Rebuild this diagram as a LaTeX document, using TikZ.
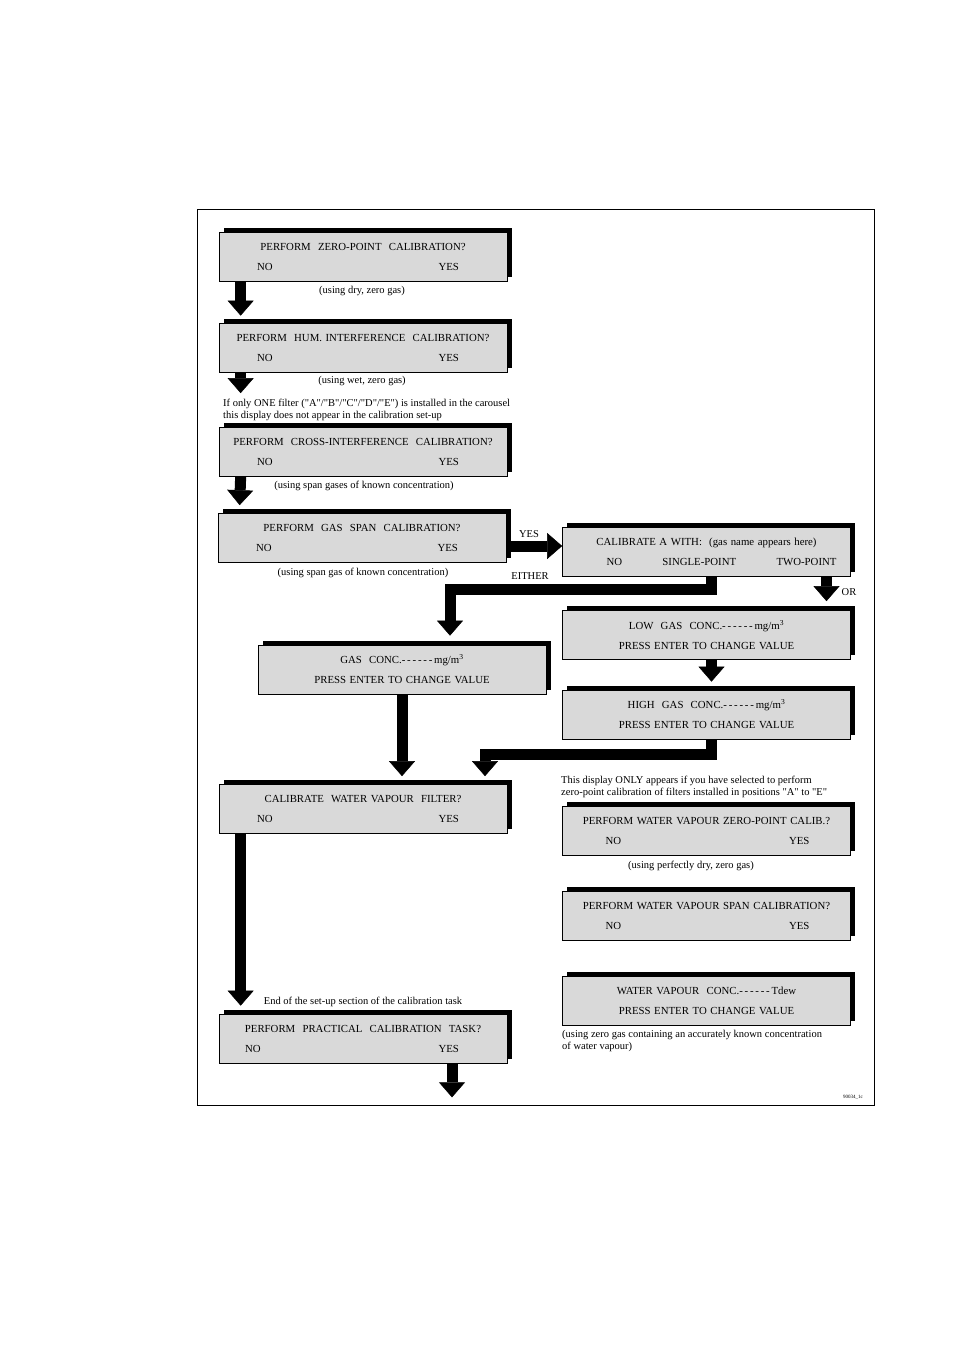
\documentclass[tikz,border=0pt]{standalone}
\usepackage{fontspec}
\setmainfont{Liberation Serif}
\usepackage{tikz}
\usetikzlibrary{positioning, shadows}
\usetikzlibrary{arrows.meta}

\newcommand{\trattini}{-\,-\,-\,-\,-\,-\,}
\newcommand{\virg}[1]{\textquotedbl#1\textquotedbl}

\tikzset{
  display/.style={draw, line width=0.7pt, fill=black!15, minimum width=288pt, minimum height=49pt,
    inner sep=0pt, text width=206pt, align=center, font=\fontsize{10.8}{20}\selectfont,
    drop shadow={shadow xshift=4.5pt, shadow yshift=4.5pt, fill=black, opacity=1}},
  nota/.style={inner sep=0pt, font=\fontsize{10.5}{12}\selectfont},
  freccia/.style={line width=11pt, line join=miter,
    -{Triangle[length=15pt, width=26pt, line width=0.5pt]}}
}

\begin{document}
\begin{tikzpicture}[x=1pt, y=-1pt]
        \useasboundingbox (0,0) rectangle (955,1350);
        % Cornice esterna
        \draw[line width=0.9pt] (197,209) rectangle (874,1105);

        % Display con domanda e risposte NO / YES
        \foreach \nome/\x/\y/\sx/\dx/\testo in {zp/363/257/-3/7/{PERFORM~ ZERO-POINT~ CALIBRATION?},
                                        hum/363/347.5/-3/7/{PERFORM~ HUM. INTERFERENCE~ CALIBRATION?},
                                        cross/363/452/-3/7/{PERFORM~ CROSS-INTERFERENCE~ CALIBRATION?},
                                        span/362/538/-3/7/{PERFORM~ GAS~ SPAN~ CALIBRATION?},
                                        wvfilter/363/809/-3/7/{CALIBRATE~ WATER VAPOUR~ FILTER?},
                                        wvzero/706.5/831/2/0/{PERFORM WATER VAPOUR ZERO-POINT CALIB.?},
                                        wvspan/706.5/916/2/0/{PERFORM WATER VAPOUR SPAN CALIBRATION?},
                                        practical/363/1038.5/-15/7/{PERFORM~ PRACTICAL~ CALIBRATION~ TASK?}} {
            \node[display] (\nome) at (\x,\y)
                {\makebox[0pt]{\testo}\\\hspace*{\sx pt}NO\hfill YES\hspace*{\dx pt}\null};
        }

        % Display con valori da impostare
        \node[display, text width=232pt] (calib) at (706.5,551.5)
            {\makebox[0pt]{CALIBRATE A WITH:~ (gas name appears here)}\\
             \hspace*{16pt}NO\hfill SINGLE-POINT\hfill TWO-POINT\hspace*{-14pt}\null};
        \node[display, text width=260pt] (gasconc) at (402,669.5)
            {GAS~ CONC.\trattini mg/m\textsuperscript{3}\\PRESS ENTER TO CHANGE VALUE};
        \node[display, text width=260pt] (low) at (706.5,635)
            {LOW~ GAS~ CONC.\trattini mg/m\textsuperscript{3}\\PRESS ENTER TO CHANGE VALUE};
        \node[display, text width=260pt] (high) at (706.5,714.5)
            {HIGH~ GAS~ CONC.\trattini mg/m\textsuperscript{3}\\PRESS ENTER TO CHANGE VALUE};
        \node[display, text width=260pt] (wvconc) at (706.5,1000.5)
            {WATER VAPOUR~ CONC.\trattini Tdew\\PRESS ENTER TO CHANGE VALUE};

        % Note
        \node[nota] (usodry) at (362,291) {(using dry, zero gas)};
        \node[nota] (usowet) at (362,381) {(using wet, zero gas)};
        \node[nota, anchor=west, align=left] (unfiltro) at (223,410)
            {If only ONE filter (\virg{A}/\virg{B}/\virg{C}/\virg{D}/\virg{E}) is installed in the carousel\\this display does not appear in the calibration set-up};
        \node[nota] (usospan) at (364,486) {(using span gases of known concentration)};
        \node[nota] (usospangas) at (363,573) {(using span gas of known concentration)};
        \node[nota] (lblyes) at (529,534) {YES};
        \node[nota] (lbleither) at (530,576) {EITHER};
        \node[nota] (lblor) at (849,592) {OR};
        \node[nota, anchor=west, align=left] (solo) at (561,787)
            {This display ONLY appears if you have selected to perform\\zero-point calibration of filters installed in positions \virg{A} to \virg{E}};
        \node[nota] (usoperf) at (691,866) {(using perfectly dry, zero gas)};
        \node[nota] (fine) at (363,1002) {End of the set-up section of the calibration task};
        \node[nota, anchor=west, align=left] (zerogas) at (562,1041)
            {(using zero gas containing an accurately known concentration\\of water vapour)};
        \node[nota, font=\fontsize{5}{6}\selectfont] (sigla) at (853,1097) {90034\_1c};

        % Frecce
        \draw[freccia] ([xshift=22pt]zp.south west) -- ([xshift=22pt,yshift=7pt]hum.north west);
        \draw[freccia] ([xshift=22pt]hum.south west) -- ([xshift=22pt,yshift=34pt]cross.north west);
        \draw[freccia] ([xshift=22pt]cross.south west) -- ([xshift=22pt,yshift=8pt]span.north west);
        \draw[freccia] ([yshift=-8pt]span.east) -- ([yshift=-8pt]span.east -| calib.west);
        \draw[freccia] ([xshift=5pt]calib.south) -- ++(0,13) -| ([xshift=48pt,yshift=9pt]gasconc.north);
        \draw[freccia] ([xshift=120pt]calib.south) -- ([xshift=120pt,yshift=9pt]low.north);
        \draw[freccia] ([xshift=5pt]low.south) -- ([xshift=5pt,yshift=8pt]high.north);
        \draw[freccia] ([xshift=5pt]high.south) -- ++(0,15) -| ([xshift=122pt,yshift=8pt]wvfilter.north);
        \draw[freccia] (gasconc.south) -- ([yshift=8pt]gasconc.south |- wvfilter.north);
        \draw[freccia] ([xshift=22pt]wvfilter.south west) -- ([xshift=22pt,yshift=8pt]practical.north west);
        \coordinate (uscita) at ([xshift=89pt,yshift=-34pt]practical.south);
        \draw[freccia] ([xshift=89pt]practical.south) -- (uscita);

\end{tikzpicture}
\end{document}
